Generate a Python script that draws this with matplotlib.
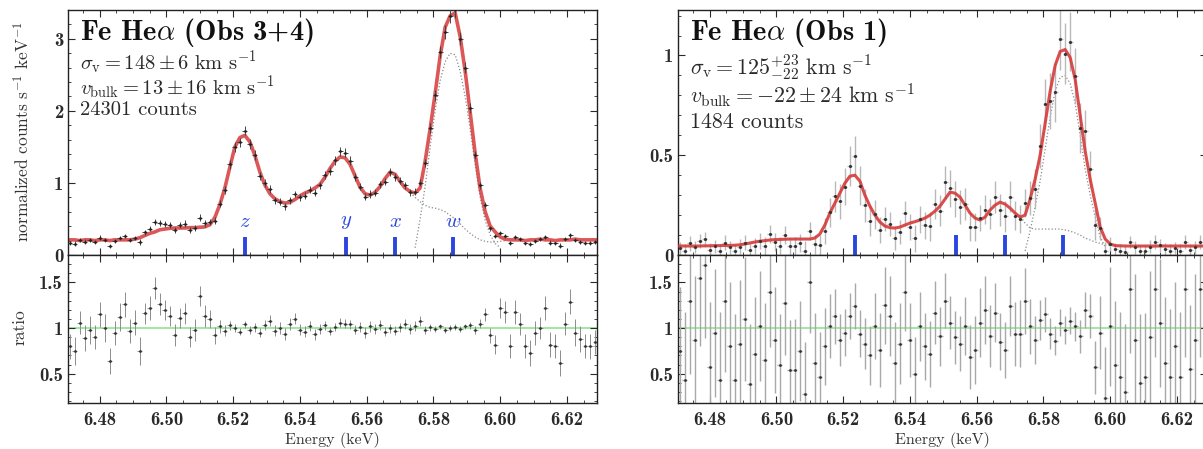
import numpy as np
import matplotlib
matplotlib.use("Agg")
import matplotlib.pyplot as plt
from matplotlib.ticker import MultipleLocator, FuncFormatter

plt.rcParams.update({
    "font.family": "serif",
    "font.serif": ["cmr10", "DejaVu Serif"],
    "mathtext.fontset": "cm",
    "axes.formatter.use_mathtext": True,
    "axes.unicode_minus": False,
})

# ---------------- data ----------------
E_START, E_STEP, N_BINS = 6.4710, 0.0015, 106
energy = np.round(E_START + E_STEP * np.arange(N_BINS), 4)

line_names = ["z", "y", "x", "w"]
line_energies = [6.5236, 6.5539, 6.5686, 6.5860]

# Obs 3+4 (left)
model_l = [0.21, 0.21, 0.20, 0.21, 0.21, 0.20, 0.21, 0.21, 0.20, 0.21,
           0.21, 0.21, 0.21, 0.22, 0.24, 0.27, 0.30, 0.32, 0.35, 0.36,
           0.37, 0.375, 0.375, 0.375, 0.38, 0.38, 0.385, 0.39, 0.42, 0.52,
           0.70, 0.93, 1.22, 1.50, 1.63, 1.66, 1.57, 1.38, 1.15, 0.97,
           0.85, 0.78, 0.74, 0.72, 0.73, 0.77, 0.82, 0.86, 0.89, 0.93,
           0.98, 1.08, 1.20, 1.30, 1.36, 1.35, 1.26, 1.10, 0.94, 0.85,
           0.83, 0.87, 0.95, 1.06, 1.15, 1.12, 1.02, 0.93, 0.88, 0.86,
           0.93, 1.30, 1.75, 2.24, 2.76, 3.16, 3.32, 3.36, 3.03, 2.55,
           1.98, 1.41, 0.92, 0.60, 0.40, 0.32, 0.25, 0.22, 0.21, 0.21,
           0.21, 0.20, 0.21, 0.21, 0.22, 0.21, 0.21, 0.20, 0.21, 0.21,
           0.21, 0.22, 0.21, 0.21, 0.21, 0.21]
ratio_l = [0.80, 0.75, 1.06, 0.89, 0.98, 0.90, 1.15, 1.00, 0.64, 0.95,
           1.12, 1.26, 0.97, 1.06, 0.75, 1.16, 1.22, 1.44, 1.26, 1.20,
           1.13, 0.92, 1.11, 1.16, 0.90, 0.98, 1.35, 1.13, 1.10, 0.92,
           1.02, 0.97, 1.03, 1.00, 0.96, 1.04, 0.98, 1.01, 0.95, 1.03,
           1.08, 0.97, 1.00, 0.94, 1.04, 1.10, 0.98, 0.96, 1.02, 0.93,
           0.99, 1.03, 0.97, 1.01, 1.06, 1.05, 1.04, 0.98, 1.01, 0.95,
           1.02, 0.99, 1.03, 0.96, 1.00, 0.97, 1.01, 1.04, 0.99, 1.02,
           1.08, 0.98, 1.01, 0.99, 1.02, 0.98, 1.00, 1.01, 0.99, 1.02,
           1.03, 0.98, 1.05, 1.15, 0.92, 0.82, 1.22, 1.18, 0.80, 1.18,
           1.04, 0.80, 0.73, 0.95, 1.00, 1.22, 0.82, 0.80, 0.62, 1.05,
           1.29, 0.95, 0.88, 0.80, 0.80, 0.85]
ratio_err_l = [0.14, 0.15, 0.13, 0.14, 0.15, 0.13, 0.14, 0.15, 0.14, 0.13,
               0.15, 0.14, 0.13, 0.14, 0.15, 0.12, 0.13, 0.12, 0.12, 0.11,
               0.11, 0.12, 0.11, 0.12, 0.11, 0.12, 0.11, 0.12, 0.10, 0.09,
               0.07, 0.06, 0.05, 0.045, 0.04, 0.04, 0.045, 0.05, 0.05, 0.055,
               0.06, 0.06, 0.065, 0.065, 0.065, 0.06, 0.06, 0.06, 0.055, 0.055,
               0.05, 0.05, 0.045, 0.045, 0.045, 0.045, 0.045, 0.05, 0.055, 0.06,
               0.06, 0.055, 0.055, 0.05, 0.05, 0.05, 0.05, 0.055, 0.055, 0.055,
               0.055, 0.045, 0.04, 0.035, 0.03, 0.03, 0.03, 0.03, 0.03, 0.03,
               0.035, 0.04, 0.05, 0.07, 0.08, 0.10, 0.11, 0.12, 0.13, 0.13,
               0.12, 0.13, 0.14, 0.13, 0.12, 0.13, 0.14, 0.13, 0.14, 0.13,
               0.14, 0.15, 0.14, 0.13, 0.14, 0.13]
wcomp_start_l = 69
wcomp_l = [0.10, 0.50, 0.95, 1.50, 2.00, 2.42, 2.68, 2.80, 2.78, 2.55,
           2.20, 1.75, 1.25, 0.80, 0.48, 0.28, 0.16, 0.10]
rest_start_l = 68
rest_l = [0.86, 0.80, 0.74, 0.69, 0.66, 0.65, 0.63, 0.60, 0.55, 0.50,
          0.43, 0.36, 0.30, 0.25, 0.21, 0.19, 0.18, 0.18, 0.19, 0.20]

# Obs 1 (right)
model_r = [0.045, 0.045, 0.045, 0.045, 0.045, 0.046, 0.046, 0.047, 0.047, 0.048,
           0.048, 0.049, 0.051, 0.055, 0.060, 0.065, 0.069, 0.072, 0.075, 0.077,
           0.078, 0.079, 0.080, 0.080, 0.080, 0.080, 0.080, 0.085, 0.105, 0.15,
           0.21, 0.26, 0.31, 0.36, 0.395, 0.40, 0.37, 0.30, 0.245, 0.20,
           0.165, 0.145, 0.137, 0.135, 0.14, 0.15, 0.16, 0.167, 0.175, 0.185,
           0.20, 0.22, 0.245, 0.28, 0.315, 0.31, 0.29, 0.25, 0.21, 0.185,
           0.175, 0.19, 0.225, 0.25, 0.265, 0.255, 0.235, 0.21, 0.19, 0.20,
           0.28, 0.38, 0.50, 0.66, 0.82, 0.95, 1.02, 1.03, 0.99, 0.88,
           0.70, 0.52, 0.38, 0.26, 0.14, 0.08, 0.055, 0.047, 0.046, 0.045,
           0.045, 0.045, 0.045, 0.045, 0.045, 0.045, 0.045, 0.045, 0.045, 0.045,
           0.045, 0.045, 0.045, 0.045, 0.045, 0.045]
ratio_r = [0.75, 0.43, 1.30, 0.87, 1.55, 1.69, 0.57, 0.95, 0.43, 1.30,
           0.80, 0.43, 0.83, 1.10, 0.39, 0.72, 1.02, 0.65, 1.39, 0.87,
           0.60, 1.28, 0.54, 0.54, 0.75, 0.28, 1.50, 0.62, 0.46, 0.80,
           1.02, 1.13, 0.87, 0.95, 1.13, 1.24, 0.94, 0.83, 0.70, 1.02,
           0.76, 1.25, 1.13, 0.62, 0.83, 1.39, 0.87, 0.50, 1.02, 0.80,
           0.72, 1.17, 0.91, 1.30, 1.06, 0.90, 0.83, 1.02, 0.68, 0.76,
           1.06, 1.20, 0.91, 1.17, 0.85, 0.76, 1.24, 0.94, 0.94, 1.30,
           1.02, 0.87, 1.09, 1.15, 0.94, 0.86, 1.06, 0.98, 1.08, 1.02,
           0.91, 1.20, 1.13, 0.57, 0.95, 0.24, 1.02, 0.60, 0.46, 0.30,
           1.43, 0.87, 0.40, 0.46, 0.90, 1.43, 1.06, 0.62, 0.46, 0.80,
           0.46, 1.43, 0.55, 0.87, 1.43, 0.70]
ratio_err_r = [0.70, 0.75, 0.80, 0.70, 0.75, 0.80, 0.72, 0.70, 0.75, 0.78,
               0.70, 0.72, 0.70, 0.68, 0.65, 0.62, 0.60, 0.62, 0.60, 0.58,
               0.55, 0.58, 0.55, 0.56, 0.55, 0.57, 0.55, 0.55, 0.50, 0.42,
               0.35, 0.30, 0.28, 0.26, 0.25, 0.25, 0.26, 0.28, 0.32, 0.36,
               0.40, 0.42, 0.44, 0.45, 0.44, 0.42, 0.40, 0.40, 0.38, 0.37,
               0.36, 0.34, 0.32, 0.30, 0.29, 0.29, 0.30, 0.32, 0.35, 0.37,
               0.38, 0.37, 0.34, 0.32, 0.31, 0.31, 0.33, 0.35, 0.37, 0.36,
               0.30, 0.26, 0.22, 0.19, 0.17, 0.16, 0.15, 0.15, 0.15, 0.16,
               0.18, 0.20, 0.24, 0.29, 0.40, 0.55, 0.65, 0.70, 0.72, 0.75,
               0.70, 0.72, 0.75, 0.70, 0.72, 0.75, 0.70, 0.72, 0.75, 0.70,
               0.72, 0.75, 0.70, 0.72, 0.75, 0.70]
wcomp_start_r = 69
wcomp_r = [0.02, 0.12, 0.24, 0.37, 0.53, 0.69, 0.82, 0.89, 0.90, 0.86,
           0.76, 0.60, 0.43, 0.30, 0.19, 0.09, 0.04]
rest_start_r = 68
rest_r = [0.19, 0.16, 0.135, 0.13, 0.13, 0.13, 0.13, 0.13, 0.13, 0.125,
          0.12, 0.11, 0.10, 0.085, 0.075, 0.065, 0.058, 0.052, 0.048]

panels = [
    dict(model=model_l, ratio=ratio_l, rerr=ratio_err_l,
         wstart=wcomp_start_l, wcomp=wcomp_l, rstart=rest_start_l, rest=rest_l,
         ytop=3.40, ymajor=1, yminor=0.2, mark_h=0.25, letters=True,
         title=r"Fe He$\alpha$ (Obs 3+4)",
         lines=[r"$\sigma_{\rm v} = 148 \pm 6\ {\rm km\ s^{-1}}$",
                r"$v_{\rm bulk} = 13 \pm 16\ {\rm km\ s^{-1}}$",
                "24301 counts"],
         text_y=[0.91, 0.788, 0.686, 0.592], x0=68 / 1203, light=False,
         title_fs=20.5, line_fs=14.8),
    dict(model=model_r, ratio=ratio_r, rerr=ratio_err_r,
         wstart=wcomp_start_r, wcomp=wcomp_r, rstart=rest_start_r, rest=rest_r,
         ytop=1.228, ymajor=0.5, yminor=0.1, mark_h=0.10, letters=False,
         title=r"Fe He$\alpha$ (Obs 1)",
         lines=[r"$\sigma_{\rm v} = 125^{+23}_{-22}\ {\rm km\ s^{-1}}$",
                r"$v_{\rm bulk} = -22 \pm 24\ {\rm km\ s^{-1}}$",
                "1484 counts"],
         text_y=[0.91, 0.763, 0.653, 0.543], x0=678 / 1203, light=True,
         title_fs=20.5, line_fs=15.8),
]

# ---------------- figure ----------------
W, H = 1203, 449
fig = plt.figure(figsize=(W / 100, H / 100), dpi=100)
fig.patch.set_facecolor("white")

ax_w = 529 / W
top_b, top_h = (H - 255) / H, 245 / H
bot_b, bot_h = (H - 403) / H, 148 / H
XLIM = (6.4705, 6.6290)
RED = "#d63a3a"
BLUE = "#2a45e0"

fmt_g = FuncFormatter(lambda v, pos: "%g" % round(v, 4))
fmt_e = FuncFormatter(lambda v, pos: "%.2f" % v)

for p in panels:
    ax = fig.add_axes([p["x0"], top_b, ax_w, top_h])
    axr = fig.add_axes([p["x0"], bot_b, ax_w, bot_h], sharex=ax)

    model = np.array(p["model"])
    ratio = np.array(p["ratio"])
    rerr = np.array(p["rerr"])
    data = model * ratio
    derr = model * rerr

    if p["light"]:
        ax.errorbar(energy, data, xerr=E_STEP / 2, yerr=derr, fmt="none",
                    ecolor="#b8b8b8", elinewidth=1.0, zorder=2)
        ax.plot(energy, model, color=RED, lw=2.2, zorder=3, alpha=0.9)
        ax.plot(energy, data, ls="none", marker=".", ms=2.5, color="#333333", zorder=4)
    else:
        ax.plot(energy, model, color=RED, lw=2.6, zorder=2, alpha=0.85)
        ax.errorbar(energy, data, xerr=E_STEP / 2, yerr=derr, fmt="none",
                    ecolor="#444444", elinewidth=0.7, zorder=3)
        ax.plot(energy, data, ls="none", marker=".", ms=2.0, color="#222222", zorder=4)

    ws = p["wstart"]
    ax.plot(energy[ws:ws + len(p["wcomp"])], p["wcomp"], ls=":", color="#8a8a8a",
            lw=0.9, zorder=1)
    rs = p["rstart"]
    ax.plot(energy[rs:rs + len(p["rest"])], p["rest"], ls=":", color="#8a8a8a",
            lw=0.9, zorder=1)

    for name, le in zip(line_names, line_energies):
        ax.plot([le, le], [0, p["mark_h"]], color=BLUE, lw=2.8, zorder=5,
                solid_capstyle="butt")
        if p["letters"]:
            ax.text(le, 0.46, "$" + name + "$", color=BLUE, fontsize=15,
                    ha="center", va="center", zorder=5)

    ax.set_xlim(*XLIM)
    ax.set_ylim(0, p["ytop"])
    ax.yaxis.set_major_locator(MultipleLocator(p["ymajor"]))
    ax.yaxis.set_minor_locator(MultipleLocator(p["yminor"]))
    ax.yaxis.set_major_formatter(fmt_g)

    ax.text(0.022, p["text_y"][0], p["title"], transform=ax.transAxes,
            fontsize=p["title_fs"], ha="left", va="center", color="#111111",
            family=["cmb10", "cmr10"])
    for t, yy in zip(p["lines"], p["text_y"][1:]):
        ax.text(0.022, yy, t, transform=ax.transAxes, fontsize=p["line_fs"],
                ha="left", va="center", color="#2a2a2a")

    # ratio panel
    axr.axhline(1.0, color="#86e086", lw=1.1, zorder=1)
    axr.errorbar(energy, ratio, xerr=E_STEP / 2, yerr=rerr, fmt="none",
                 ecolor="#a8a8a8" if p["light"] else "#8c8c8c",
                 elinewidth=1.0 if p["light"] else 0.7, zorder=2)
    axr.plot(energy, ratio, ls="none", marker=".", ms=2.0, color="#333333", zorder=3)
    axr.set_ylim(0.18, 1.80)
    axr.yaxis.set_major_locator(MultipleLocator(0.5))
    axr.yaxis.set_minor_locator(MultipleLocator(0.1))
    axr.yaxis.set_major_formatter(fmt_g)
    axr.xaxis.set_major_locator(MultipleLocator(0.02))
    axr.xaxis.set_minor_locator(MultipleLocator(0.005))
    axr.xaxis.set_major_formatter(fmt_e)
    axr.set_xlabel("Energy (keV)", fontsize=11.5, labelpad=2, color="#333333")

    for a in (ax, axr):
        a.tick_params(which="both", direction="in", top=True, right=True,
                      labelsize=13.5, colors="#2a2a2a", labelfontfamily="cmb10")
        a.tick_params(which="major", length=5, width=0.8)
        a.tick_params(which="minor", length=2.5, width=0.6)
        for s in a.spines.values():
            s.set_linewidth(1.0)
            s.set_color("#222222")
    ax.tick_params(labelbottom=False)
    axr.tick_params(axis="x", pad=6)

fig.text(22 / W, 1 - 132 / H, r"normalized counts s$^{-1}$ keV$^{-1}$",
         rotation=90, ha="center", va="center", fontsize=12.5, color="#333333")
fig.text(20 / W, 1 - 327 / H, "ratio", rotation=90, ha="center", va="center",
         fontsize=12.5, color="#333333")

fig.savefig("out.png", dpi=100, facecolor="white")
